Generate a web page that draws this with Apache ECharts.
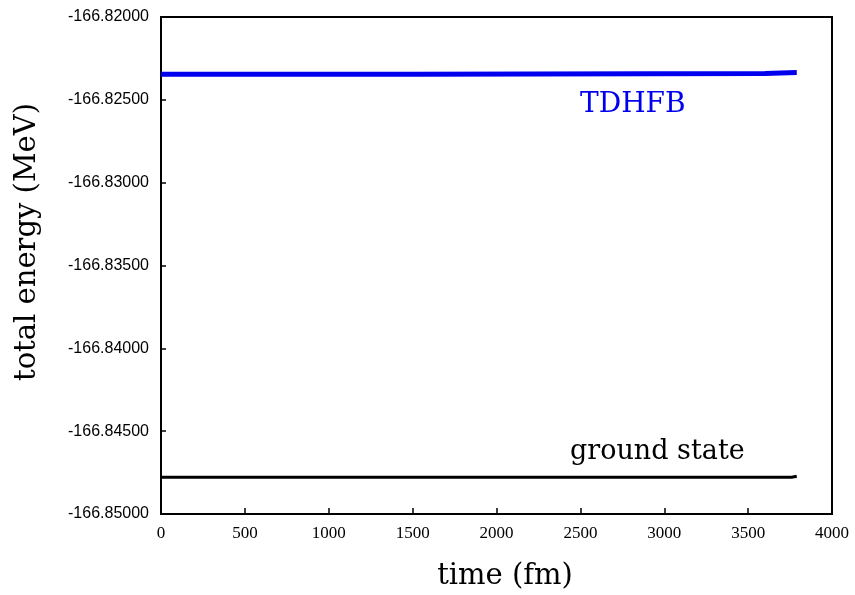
<!DOCTYPE html>
<html>
<head>
<meta charset="utf-8">
<script src="https://cdn.jsdelivr.net/npm/echarts@6/dist/echarts.min.js"></script>
<style>
  html, body { margin: 0; padding: 0; background: #fff; }
  #chart { width: 855px; height: 595px; }
</style>
</head>
<body>
<div id="chart"></div>
<script>
// Time-dependent HFB total energy vs. the ground-state energy
const tdhfbTime = [0, 1530, 1530, 3600, 3600, 3790];
const tdhfbEnergy = [-166.82346, -166.82346, -166.82341, -166.82341, -166.82335, -166.82335];
const groundTime = [0, 3760, 3760, 3790];
const groundEnergy = [-166.847785, -166.847785, -166.84772, -166.84772];
const xTicks = [0, 500, 1000, 1500, 2000, 2500, 3000, 3500, 4000];
const yTicks = [-166.85, -166.845, -166.84, -166.835, -166.83, -166.825, -166.82];

const pairs = (xs, ys) => xs.map((x, i) => [x, ys[i]]);

const chart = echarts.init(document.getElementById('chart'));
const serif = '"DejaVu Serif", "Liberation Serif", serif';
const tickSerif = '"Liberation Serif", serif';
const sans = '"Liberation Sans", Arial, sans-serif';

chart.setOption({
  animation: false,
  backgroundColor: '#fff',
  grid: {
    left: 161, top: 17, right: 23, bottom: 81,
    outerBoundsMode: 'none', containLabel: false,
    show: true, borderColor: '#000', borderWidth: 2, backgroundColor: 'transparent'
  },
  xAxis: {
    type: 'value',
    min: xTicks[0], max: xTicks[xTicks.length - 1], interval: 500,
    axisLine: { show: true, lineStyle: { color: '#000', width: 2 } },
    axisTick: { show: true, inside: true, length: 6, lineStyle: { color: '#000', width: 1.5 } },
    axisLabel: { fontFamily: tickSerif, fontSize: 17, color: '#000', margin: 11, formatter: v => String(v) },
    splitLine: { show: false }
  },
  yAxis: {
    type: 'value',
    min: yTicks[0], max: yTicks[yTicks.length - 1], interval: 0.005,
    axisLine: { show: true, lineStyle: { color: '#000', width: 2 } },
    axisTick: { show: true, inside: true, length: 5, lineStyle: { color: '#000', width: 1.5 } },
    axisLabel: {
      fontFamily: sans, fontSize: 16, color: '#000', margin: 12,
      formatter: v => v.toFixed(5)
    },
    splitLine: { show: false }
  },
  series: [
    {
      name: 'TDHFB', type: 'line', data: pairs(tdhfbTime, tdhfbEnergy),
      showSymbol: false, lineStyle: { color: '#0000ee', width: 5, join: 'miter', cap: 'butt' }
    },
    {
      name: 'ground state', type: 'line', data: pairs(groundTime, groundEnergy),
      showSymbol: false, lineStyle: { color: '#000', width: 3, join: 'miter', cap: 'butt' }
    }
  ],
  graphic: [
    { type: 'text', x: 580, y: 105, style: { text: 'TDHFB', font: '28px ' + serif, fill: '#0000ee', verticalAlign: 'middle' } },
    { type: 'text', x: 570, y: 452, style: { text: 'ground state', font: '27px ' + serif, fill: '#000', verticalAlign: 'middle' } },
    { type: 'text', x: 505, y: 576, style: { text: 'time (fm)', font: '29px ' + serif, fill: '#000', align: 'center', verticalAlign: 'middle' } },
    { type: 'text', x: 27, y: 242, rotation: Math.PI / 2, style: { text: 'total energy (MeV)', font: '29px ' + serif, fill: '#000', align: 'center', verticalAlign: 'middle' } }
  ]
});
</script>
</body>
</html>
